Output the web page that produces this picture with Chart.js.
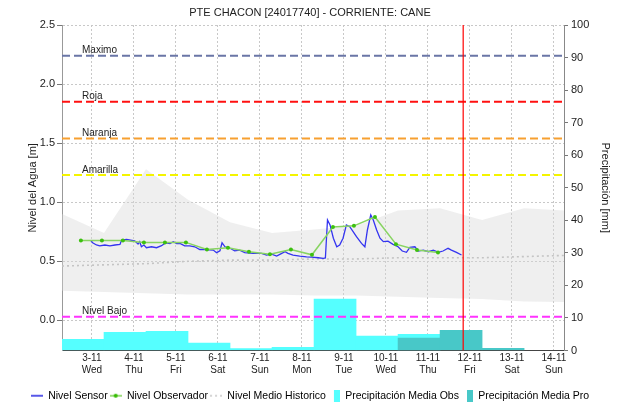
<!DOCTYPE html>
<html lang="es">
<head>
<meta charset="UTF-8">
<title>PTE CHACON [24017740] - CORRIENTE: CANE</title>
<script src="https://cdn.jsdelivr.net/npm/chart.js"></script>
<style>
  body { margin: 0; background: #fff; }
  canvas { display: block; }
</style>
</head>
<body>
<canvas id="nivelChart" width="620" height="405"></canvas>
<script>
// Eje X en dias de noviembre (parte decimal = hora del dia)
const dayTicks = [3, 4, 5, 6, 7, 8, 9, 10, 11, 12, 13, 14];
const dayLabels = ['3-11', '4-11', '5-11', '6-11', '7-11', '8-11', '9-11', '10-11', '11-11', '12-11', '13-11', '14-11'];
const weekDays = ['Wed', 'Thu', 'Fri', 'Sat', 'Sun', 'Mon', 'Tue', 'Wed', 'Thu', 'Fri', 'Sat', 'Sun'];
const levelTicks = [0, 0.5, 1, 1.5, 2, 2.5];
const rainTicks = [0, 10, 20, 30, 40, 50, 60, 70, 80, 90, 100];
const dayStart = 2.29;   // 2-11 07:00
const dayEnd = 14.24;
const nowDay = 11.84;    // hora actual

// Nivel sensor [m]
const sensorTimes = [2.98, 3.02, 3.11, 3.19, 3.31, 3.43, 3.55, 3.67, 3.71, 3.83, 3.92, 4.02, 4.10, 4.14, 4.18, 4.24,
  4.30, 4.42, 4.54, 4.66, 4.76, 4.86, 4.94, 5.02, 5.11, 5.21, 5.33, 5.45, 5.57, 5.69, 5.89, 5.97, 6.05, 6.10, 6.17,
  6.29, 6.40, 6.52, 6.64, 6.84, 7.04, 7.16, 7.28, 7.40, 7.52, 7.60, 7.67, 7.79, 7.95, 8.11, 8.23, 8.39, 8.51, 8.56,
  8.61, 8.67, 8.75, 8.83, 8.90, 8.98, 9.06, 9.14, 9.22, 9.30, 9.42, 9.50, 9.56, 9.64, 9.70, 9.78, 9.86, 9.94, 10.05,
  10.17, 10.29, 10.39, 10.49, 10.57, 10.69, 10.77, 10.89, 11.01, 11.13, 11.25, 11.36, 11.48, 11.56, 11.68, 11.80];
const sensorLevels = [0.674, 0.657, 0.638, 0.630, 0.638, 0.630, 0.638, 0.643, 0.680, 0.686, 0.680, 0.674, 0.646, 0.666, 0.623, 0.638,
  0.615, 0.623, 0.615, 0.632, 0.657, 0.650, 0.666, 0.650, 0.650, 0.630, 0.630, 0.623, 0.600, 0.600, 0.595, 0.573, 0.589, 0.657, 0.623,
  0.610, 0.589, 0.595, 0.573, 0.567, 0.567, 0.553, 0.561, 0.544, 0.567, 0.581, 0.567, 0.553, 0.544, 0.538, 0.535, 0.530, 0.525, 0.528,
  0.850, 0.808, 0.695, 0.623, 0.638, 0.695, 0.808, 0.793, 0.751, 0.708, 0.652, 0.623, 0.765, 0.893, 0.850, 0.765, 0.695, 0.666, 0.670,
  0.643, 0.623, 0.587, 0.576, 0.618, 0.623, 0.587, 0.595, 0.581, 0.595, 0.576, 0.587, 0.610, 0.595, 0.576, 0.553];

// Nivel observador [m], lecturas de 06:00 y 18:00
const obsTimes = [2.74, 3.24, 3.74, 4.24, 4.74, 5.24, 5.74, 6.24, 6.74, 7.24, 7.74, 8.24, 8.74, 9.24, 9.74, 10.24, 10.74, 11.24];
const obsLevels = [0.675, 0.675, 0.675, 0.66, 0.66, 0.66, 0.60, 0.615, 0.58, 0.56, 0.60, 0.555, 0.79, 0.80, 0.875, 0.645, 0.595, 0.575];

// Historico diario [m]
const histTimes = [2.29, 3.29, 4.29, 5.29, 6.29, 7.29, 8.29, 9.29, 10.29, 11.29, 12.29, 13.29, 14.29];
const histMean = [0.46, 0.47, 0.48, 0.50, 0.51, 0.51, 0.52, 0.52, 0.53, 0.53, 0.53, 0.54, 0.55];
const histMax = [0.90, 0.74, 1.28, 1.02, 0.83, 0.74, 0.77, 0.80, 0.93, 0.95, 0.85, 0.95, 0.93];
const histMin = [0.25, 0.24, 0.23, 0.22, 0.22, 0.22, 0.21, 0.21, 0.20, 0.19, 0.18, 0.16, 0.155];

// Precipitacion diaria [mm], dia de 07:00 a 07:00 (centro del dia)
const rainObsTimes = [2.79, 3.79, 4.79, 5.79, 6.79, 7.79, 8.79, 9.79, 10.79];
const rainObs = [3.4, 5.6, 5.9, 2.3, 0.6, 1.0, 15.8, 4.4, 5.0];
const rainProTimes = [10.79, 11.79, 12.79];
const rainPro = [3.8, 6.2, 0.7];

// Umbrales [m]
const thresholdNames = ['Maximo', 'Roja', 'Naranja', 'Amarilla', 'Nivel Bajo'];
const thresholdLevels = [2.24, 1.85, 1.54, 1.23, 0.03];
const thresholdColors = ['#6a76a6', '#ff1010', '#f7a030', '#f4f400', '#ff33ff'];

const FONT = '"Liberation Sans", Arial, sans-serif';

const pts = (xs, ys) => xs.map((x, i) => ({ x: x, y: ys[i] }));

function legendIcon(draw) {
  const c = document.createElement('canvas');
  c.width = 12;
  c.height = 12;
  draw(c.getContext('2d'));
  return c;
}

const legendItems = [
  { text: 'Nivel Sensor', icon: legendIcon(g => {
      g.strokeStyle = '#2020e0'; g.lineWidth = 1.5;
      g.beginPath(); g.moveTo(0, 6); g.lineTo(12, 6); g.stroke();
  }) },
  { text: 'Nivel Observador', icon: legendIcon(g => {
      g.strokeStyle = '#7cd050'; g.lineWidth = 1.5;
      g.beginPath(); g.moveTo(0, 6); g.lineTo(12, 6); g.stroke();
      g.fillStyle = '#33bb00';
      g.beginPath(); g.arc(6, 6, 2, 0, Math.PI * 2); g.fill();
  }) },
  { text: 'Nivel Medio Historico', icon: legendIcon(g => {
      g.strokeStyle = '#c8c8c8'; g.lineWidth = 1.5; g.setLineDash([2, 3]);
      g.beginPath(); g.moveTo(0, 6); g.lineTo(12, 6); g.stroke();
  }) },
  { text: 'Precipitación Media Obs', icon: legendIcon(g => {
      g.fillStyle = '#55ffff'; g.fillRect(6, 0, 6, 12);
  }) },
  { text: 'Precipitación Media Pro', icon: legendIcon(g => {
      g.fillStyle = '#48c8c8'; g.fillRect(6, 0, 6, 12);
  }) }
];

// etiquetas de los umbrales, justo encima de cada linea
const thresholdLabels = {
  id: 'thresholdLabels',
  afterDatasetsDraw(chart) {
    const { ctx, chartArea, scales } = chart;
    ctx.save();
    ctx.font = '10px ' + FONT;
    ctx.fillStyle = '#222';
    ctx.textBaseline = 'alphabetic';
    thresholdNames.forEach((name, i) => {
      const y = scales.y.getPixelForValue(thresholdLevels[i]);
      ctx.fillText(name, chartArea.left + 20, y - 2.5);
    });
    ctx.restore();
  }
};

const datasets = [
  {
    label: 'Maximo historico', data: pts(histTimes, histMax), yAxisID: 'y',
    borderWidth: 0, pointRadius: 0, fill: '+1', backgroundColor: 'rgba(215,215,215,0.4)', order: 20
  },
  {
    label: 'Minimo historico', data: pts(histTimes, histMin), yAxisID: 'y',
    borderWidth: 0, pointRadius: 0, fill: false, order: 20
  },
  {
    type: 'bar', label: 'Precipitación Media Obs', data: pts(rainObsTimes, rainObs), yAxisID: 'yR',
    backgroundColor: '#55ffff', borderWidth: 0, grouped: false, barPercentage: 1, categoryPercentage: 1, order: 12
  },
  {
    type: 'bar', label: 'Precipitación Media Pro', data: pts(rainProTimes, rainPro), yAxisID: 'yR',
    backgroundColor: '#48c8c8', borderWidth: 0, grouped: false, barPercentage: 1, categoryPercentage: 1, order: 11
  },
  {
    label: 'Nivel Medio Historico', data: pts(histTimes, histMean), yAxisID: 'y',
    borderColor: '#c4c4c4', borderWidth: 1.6, borderDash: [2, 3], pointRadius: 0, order: 9
  }
];

thresholdLevels.forEach((v, i) => {
  datasets.push({
    label: thresholdNames[i], data: [{ x: dayStart, y: v }, { x: dayEnd, y: v }], yAxisID: 'y',
    borderColor: thresholdColors[i], borderWidth: 2, borderDash: [8, 4], pointRadius: 0, order: 8
  });
});

datasets.push(
  {
    label: 'Nivel Sensor', data: pts(sensorTimes, sensorLevels), yAxisID: 'y',
    borderColor: '#3434f0', borderWidth: 1.3, pointRadius: 0, order: 5
  },
  {
    label: 'Nivel Observador', data: pts(obsTimes, obsLevels), yAxisID: 'y',
    borderColor: '#88d462', borderWidth: 1.5, pointRadius: 2,
    pointBackgroundColor: '#3cc010', pointBorderWidth: 0, order: 4
  },
  {
    label: 'Ahora', data: [{ x: nowDay, y: -0.255 }, { x: nowDay, y: 2.5 }], yAxisID: 'y',
    borderColor: '#ff0000', borderWidth: 1.2, pointRadius: 0, order: 3
  }
);

new Chart(document.getElementById('nivelChart'), {
  type: 'line',
  data: { datasets: datasets },
  options: {
    responsive: false,
    animation: false,
    events: [],
    layout: { padding: { top: 0, left: 0, right: 0, bottom: -6 } },
    elements: { line: { tension: 0 } },
    scales: {
      x: {
        type: 'linear', min: dayStart, max: dayEnd, offset: false,
        afterBuildTicks: s => { s.ticks = dayTicks.map(v => ({ value: v })); },
        afterFit: s => { s.height = 38; },
        ticks: {
          autoSkip: false, maxRotation: 0, padding: 2, color: '#222',
          font: { family: FONT, size: 10 },
          callback: (v, i) => [dayLabels[i], weekDays[i]]
        },
        grid: { color: '#c8c8c8', drawTicks: false, offset: false },
        border: { color: '#444', dash: [2, 2] }
      },
      y: {
        position: 'left', min: -0.255, max: 2.5,
        afterBuildTicks: s => { s.ticks = levelTicks.map(v => ({ value: v })); },
        afterFit: s => { s.width = 62; },
        ticks: {
          padding: 2, color: '#222', font: { family: FONT, size: 11 },
          callback: v => v.toFixed(1)
        },
        grid: { color: '#c8c8c8', tickColor: '#777', tickLength: 5 },
        border: { color: '#999', dash: [2, 2] },
        title: {
          display: true, text: 'Nivel del Agua [m]', color: '#222',
          font: { family: FONT, size: 11 }, padding: { top: 26, bottom: 0 }
        }
      },
      yR: {
        position: 'right', min: 0, max: 100,
        afterBuildTicks: s => { s.ticks = rainTicks.map(v => ({ value: v })); },
        afterFit: s => { s.width = 56; },
        ticks: { padding: 3, color: '#222', font: { family: FONT, size: 11 } },
        grid: { drawOnChartArea: false, tickColor: '#777', tickLength: 4 },
        border: { color: '#888' },
        title: {
          display: true, text: 'Precipitación [mm]', color: '#222',
          font: { family: FONT, size: 11 }, padding: { top: 8, bottom: 0 }
        }
      }
    },
    plugins: {
      title: {
        display: true, text: 'PTE CHACON [24017740] - CORRIENTE: CANE', color: '#222',
        font: { family: FONT, size: 11, weight: 'normal' }, padding: { top: 6, bottom: 5.8 }
      },
      legend: {
        position: 'bottom',
        labels: {
          usePointStyle: true, pointStyleWidth: 12, padding: 2, color: '#222',
          font: { family: FONT, size: 10.5 },
          generateLabels: () => legendItems.map(item => ({
            text: item.text, pointStyle: item.icon, fillStyle: 'rgba(0,0,0,0)',
            strokeStyle: 'rgba(0,0,0,0)', lineWidth: 0, hidden: false
          }))
        }
      },
      tooltip: { enabled: false }
    }
  },
  plugins: [thresholdLabels]
});
</script>
</body>
</html>
